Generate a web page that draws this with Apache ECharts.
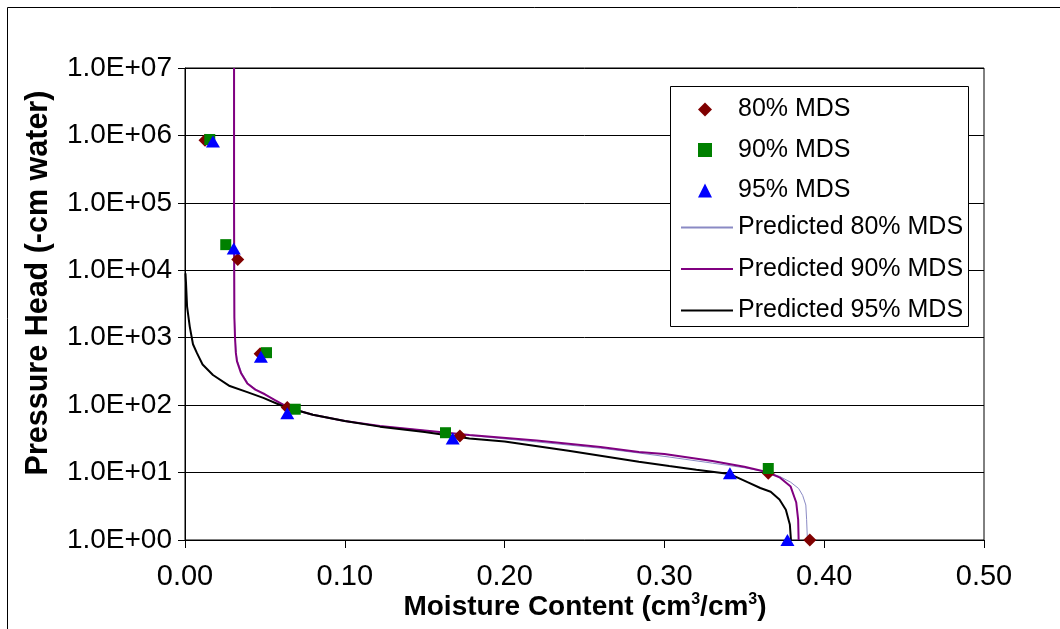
<!DOCTYPE html>
<html>
<head>
<meta charset="utf-8">
<script src="https://cdn.jsdelivr.net/npm/echarts@6/dist/echarts.min.js"></script>
<style>
html,body{margin:0;padding:0;background:#fff;}
#chart{width:1060px;height:629px;}
</style>
</head>
<body>
<div id="chart"></div>
<script>
// ---- Data (moisture content cm3/cm3, pressure head -cm water) ----
var obs80 = [[0.0125, 850000], [0.033, 14500], [0.047, 580], [0.064, 92], [0.172, 35], [0.365, 9.8], [0.391, 1.0]];
var obs90 = [[0.0155, 870000], [0.0255, 24000], [0.051, 600], [0.069, 87], [0.163, 39], [0.365, 11.5]];
var obs95 = [[0.0175, 810000], [0.0305, 21000], [0.0475, 520], [0.064, 76], [0.1675, 32], [0.341, 9.8], [0.377, 1.0]];

var pred80 = [[0.0306, 1e7], [0.0306, 1e5], [0.0307, 1e4], [0.0309, 2000], [0.0314, 1000], [0.032, 600], [0.0328, 450], [0.0355, 300], [0.0395, 210],
  [0.0445, 170], [0.05, 145], [0.056, 120], [0.062, 100], [0.07, 84], [0.08, 72], [0.10, 58], [0.122, 49], [0.15, 42], [0.178, 35.5],
  [0.22, 28.5], [0.26, 23], [0.284, 19.5], [0.303, 17], [0.33, 13.8], [0.35, 11.8], [0.364, 10.2], [0.372, 8.8], [0.379, 7.2],
  [0.384, 5.8], [0.3865, 4.6], [0.3885, 3.3], [0.389, 2.0], [0.3895, 1.0]];

var pred90 = [[0.0307, 1e7], [0.0307, 1e5], [0.0308, 1e4], [0.0309, 2000], [0.0313, 1000], [0.0318, 600], [0.0325, 450], [0.035, 300], [0.039, 210],
  [0.044, 170], [0.05, 145], [0.056, 120], [0.062, 100], [0.07, 84], [0.08, 72], [0.10, 58], [0.122, 49], [0.15, 42], [0.178, 36],
  [0.22, 30], [0.26, 24], [0.284, 20.2], [0.30, 18.8], [0.33, 14.8], [0.35, 12.2], [0.364, 10.2], [0.372, 8.5], [0.379, 6.2],
  [0.3825, 3.6], [0.3837, 2.0], [0.384, 1.0]];

var pred95 = [[0.0003, 9000], [0.0006, 6700], [0.0013, 2900], [0.003, 1450], [0.005, 800], [0.0075, 590], [0.011, 400], [0.0175, 280],
  [0.028, 192], [0.039, 156], [0.049, 128], [0.061, 97], [0.07, 84], [0.08, 72], [0.10, 58], [0.122, 48], [0.15, 40], [0.178, 32],
  [0.20, 29], [0.24, 21], [0.284, 14.5], [0.303, 12.5], [0.32, 11], [0.341, 9.5], [0.352, 7.2], [0.36, 5.9], [0.3665, 5.2],
  [0.372, 4.0], [0.376, 2.8], [0.3785, 1.7], [0.3792, 1.0]];

var seriesNames = ['80% MDS', '90% MDS', '95% MDS', 'Predicted 80% MDS', 'Predicted 90% MDS', 'Predicted 95% MDS'];
var xTitle = '{a|Moisture Content (cm}{s|3}{a|/cm}{s|3}{a|)}';
var yTitle = 'Pressure Head (-cm water)';

function sciLabel(v) {
  var e = Math.round(Math.log(v) / Math.LN10);
  return '1.0E+' + (e < 10 ? '0' : '') + e;
}

var chart = echarts.init(document.getElementById('chart'), null, {renderer: 'canvas'});
var fontMain = '"Liberation Sans", Arial, sans-serif';
var fontNarrow = '"Liberation Sans Narrow", "Arial Narrow", "Liberation Sans", sans-serif';
var noSym = {color: 'rgba(0,0,0,0)', borderColor: 'rgba(0,0,0,0)', borderWidth: 0, opacity: 0};

chart.setOption({
  animation: false,
  backgroundColor: '#ffffff',
  grid: {left: 185, right: 76, top: 68, bottom: 89, show: true, borderColor: '#000', borderWidth: 1, containLabel: false},
  xAxis: {
    type: 'value', min: 0, max: 0.5, interval: 0.1,
    axisLine: {show: true, lineStyle: {color: '#000', width: 1}},
    axisTick: {show: true, length: 8, lineStyle: {color: '#000'}},
    axisLabel: {margin: 22, color: '#000', fontFamily: fontNarrow, fontSize: 29, formatter: function (v) { return v.toFixed(2); }},
    splitLine: {show: false}
  },
  yAxis: {
    type: 'log', logBase: 10, min: 1, max: 1e7, splitNumber: 7,
    axisLine: {show: true, onZero: false, lineStyle: {color: '#000', width: 1}},
    axisTick: {show: true, length: 7, lineStyle: {color: '#000'}},
    axisLabel: {margin: 13, color: '#000', fontFamily: fontMain, fontSize: 28, formatter: sciLabel},
    splitLine: {show: true, lineStyle: {color: '#000', width: 1}},
    minorTick: {show: false}
  },
  legend: [
    {
      data: seriesNames.slice(0, 3),
      orient: 'vertical', left: 698, top: 97,
      itemWidth: 14, itemHeight: 14, itemGap: 15.5, padding: 0,
      textStyle: {fontFamily: fontMain, fontSize: 25, color: '#000', padding: [0, 0, 0, 21]},
      z: 10
    },
    {
      data: seriesNames.slice(3).map(function (n) { return {name: n, itemStyle: noSym}; }),
      orient: 'vertical', left: 680, top: 215,
      itemWidth: 52, itemHeight: 14, itemGap: 16.5, padding: 0,
      textStyle: {fontFamily: fontMain, fontSize: 25, color: '#000'},
      z: 10
    }
  ],
  graphic: [
    {type: 'rect', shape: {x: 7.5, y: 7.5, width: 1200, height: 800}, style: {fill: 'none', stroke: '#000', lineWidth: 1}, z: -1, silent: true},
    {type: 'rect', shape: {x: 670.5, y: 86.5, width: 298, height: 240}, style: {fill: '#fff', stroke: '#000', lineWidth: 1}, z: 9, silent: true},
    {type: 'text', x: 585, y: 607, style: {
      text: xTitle, align: 'center', verticalAlign: 'middle',
      rich: {a: {fontFamily: fontMain, fontWeight: 'bold', fontSize: 28, fill: '#000'},
             s: {fontFamily: fontMain, fontWeight: 'bold', fontSize: 16, fill: '#000', verticalAlign: 'top', padding: [0, 0, 14, 0]}}
    }},
    {type: 'text', x: 39, y: 283, rotation: Math.PI / 2, style: {
      text: yTitle, align: 'center', verticalAlign: 'middle',
      fontFamily: fontMain, fontWeight: 'bold', fontSize: 30.5, fill: '#000'
    }}
  ],
  series: [
    {name: seriesNames[0], type: 'scatter', data: obs80, symbol: 'diamond', symbolSize: 13, itemStyle: {color: '#800000', opacity: 1}, z: 5},
    {name: seriesNames[1], type: 'scatter', data: obs90, symbol: 'rect', symbolSize: 11, itemStyle: {color: '#008000', opacity: 1}, z: 5},
    {name: seriesNames[2], type: 'scatter', data: obs95, symbol: 'triangle', symbolSize: [14, 12], itemStyle: {color: '#0000FF', opacity: 1}, z: 5},
    {name: seriesNames[3], type: 'line', data: pred80, symbol: 'none', showSymbol: false, lineStyle: {color: '#8A8AC4', width: 1}, itemStyle: {color: '#8A8AC4'}, z: 3},
    {name: seriesNames[4], type: 'line', data: pred90, symbol: 'none', showSymbol: false, lineStyle: {color: '#800080', width: 2}, itemStyle: {color: '#800080'}, z: 3},
    {name: seriesNames[5], type: 'line', data: pred95, symbol: 'none', showSymbol: false, lineStyle: {color: '#000000', width: 2}, itemStyle: {color: '#000000'}, z: 3}
  ]
});
</script>
</body>
</html>
